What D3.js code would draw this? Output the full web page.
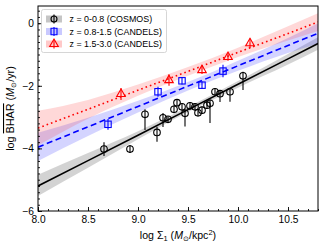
<!DOCTYPE html>
<html>
<head>
<meta charset="utf-8">
<script src="https://cdn.jsdelivr.net/npm/d3@7"></script>
<style>
  body { margin: 0; background: #fff; }
  svg { display: block; font-family: "Liberation Sans", Arial, sans-serif; }
</style>
</head>
<body>
<svg id="chart"></svg>
<script>
// COSMOS, z = 0-0.8
var cosmosX     = [8.66, 8.92, 9.07, 9.19, 9.25, 9.30, 9.36, 9.39, 9.44, 9.47, 9.52, 9.57, 9.60, 9.64, 9.69, 9.72, 9.77, 9.82, 9.92, 10.05];
var cosmosY     = [-4.02, -4.02, -2.91, -3.49, -3.02, -3.07, -2.75, -2.54, -2.67, -2.88, -2.64, -2.67, -2.86, -2.78, -2.62, -2.56, -2.19, -2.25, -2.19, -1.68];
var cosmosErrLo = [0.22, 0.13, 0.50, 0.30, 0.30, 0.10, 0.12, 0.12, 0.12, 0.42, 0.12, 0.12, 0.12, 0.12, 0.12, 0.63, 0.12, 0.27, 0.32, 0.45];
var cosmosErrHi = [0.22, 0.13, 0.16, 0.18, 0.15, 0.10, 0.12, 0.12, 0.12, 0.12, 0.12, 0.12, 0.12, 0.12, 0.12, 0.12, 0.12, 0.12, 0.12, 0.13];

// CANDELS, z = 0.8-1.5
var midX   = [8.70, 9.20, 9.44, 9.64, 9.85];
var midY   = [-3.23, -2.19, -1.84, -1.98, -1.53];
var midErr = [0.17, 0.16, 0.12, 0.12, 0.20];

// CANDELS, z = 1.5-3.0
var highX   = [8.83, 9.31, 9.64, 9.90, 10.12];
var highY   = [-2.26, -1.82, -1.50, -1.08, -0.64];
var highErr = [0.19, 0.18, 0.12, 0.12, 0.15];

// fits with confidence bands
var fitX     = [8.0, 8.5, 9.0, 9.5, 10.0, 10.5, 10.8];
var lowFit   = [-5.20, -4.39, -3.58, -2.76, -1.95, -1.14, -0.65];
var lowBandLo = [-5.52, -4.62, -3.71, -2.84, -2.06, -1.32, -0.85];
var lowBandHi = [-4.84, -4.15, -3.45, -2.68, -1.85, -0.98, -0.45];
var midFit   = [-3.96, -3.31, -2.66, -2.01, -1.36, -0.71, -0.32];
var midBandLo = [-4.40, -3.60, -2.85, -2.15, -1.52, -0.95, -0.66];
var midBandHi = [-3.50, -3.02, -2.48, -1.88, -1.20, -0.47, 0.00];
var highFit  = [-3.35, -2.75, -2.14, -1.54, -0.93, -0.33, 0.04];
var highBandLo = [-3.90, -3.05, -2.32, -1.68, -1.08, -0.55, -0.25];
var highBandHi = [-2.80, -2.45, -1.96, -1.40, -0.78, -0.10, 0.32];

var legendLabels = ["z = 0-0.8 (COSMOS)", "z = 0.8-1.5 (CANDELS)", "z = 1.5-3.0 (CANDELS)"];
var xTickValues = [8.0, 8.5, 9.0, 9.5, 10.0, 10.5];
var yTickValues = [-6, -4, -2, 0];

var W = 324, H = 246;
var margin = {left: 38, right: 6, top: 6, bottom: 35};
var svg = d3.select("#chart").attr("width", W).attr("height", H);

var x = d3.scaleLinear().domain([8.0, 10.8]).range([margin.left, W - margin.right]);
var y = d3.scaleLinear().domain([-6, 0.55]).range([H - margin.bottom, margin.top]);

svg.append("clipPath").attr("id", "clip")
  .append("rect")
  .attr("x", x.range()[0]).attr("y", y.range()[1])
  .attr("width", x.range()[1] - x.range()[0])
  .attr("height", y.range()[0] - y.range()[1]);

var plot = svg.append("g").attr("clip-path", "url(#clip)");

var fits = [
  {fit: lowFit, lo: lowBandLo, hi: lowBandHi, fill: "rgba(110,110,110,0.3)", stroke: "#000", dash: null},
  {fit: midFit, lo: midBandLo, hi: midBandHi, fill: "rgba(60,60,255,0.22)", stroke: "#0000ff", dash: "6,3.5"},
  {fit: highFit, lo: highBandLo, hi: highBandHi, fill: "rgba(255,60,60,0.2)", stroke: "#ff0000", dash: "1.6,3"}
];

fits.forEach(function(f) {
  var area = d3.area()
    .x(function(d, i) { return x(fitX[i]); })
    .y0(function(d, i) { return y(f.lo[i]); })
    .y1(function(d, i) { return y(f.hi[i]); })
    .curve(d3.curveMonotoneX);
  plot.append("path").datum(fitX).attr("d", area).attr("fill", f.fill);
});

fits.forEach(function(f) {
  var line = d3.line()
    .x(function(d, i) { return x(fitX[i]); })
    .y(function(d, i) { return y(f.fit[i]); });
  plot.append("path").datum(fitX).attr("d", line)
    .attr("fill", "none")
    .attr("stroke", f.stroke)
    .attr("stroke-width", 1.6)
    .attr("stroke-dasharray", f.dash);
});

// error bars
function errBars(xs, ys, lo, hi, color) {
  plot.append("g").selectAll("line")
    .data(xs)
    .enter().append("line")
    .attr("x1", function(d) { return x(d); })
    .attr("x2", function(d) { return x(d); })
    .attr("y1", function(d, i) { return y(ys[i] - lo[i]); })
    .attr("y2", function(d, i) { return y(ys[i] + hi[i]); })
    .attr("stroke", color)
    .attr("stroke-width", 1.1);
}

errBars(cosmosX, cosmosY, cosmosErrLo, cosmosErrHi, "#000");
errBars(midX, midY, midErr, midErr, "#0000ff");
errBars(highX, highY, highErr, highErr, "#ff0000");

plot.append("g").selectAll("circle")
  .data(cosmosX)
  .enter().append("circle")
  .attr("cx", function(d) { return x(d); })
  .attr("cy", function(d, i) { return y(cosmosY[i]); })
  .attr("r", 3.3)
  .attr("fill", "none")
  .attr("stroke", "#000")
  .attr("stroke-width", 1.1);

plot.append("g").selectAll("rect")
  .data(midX)
  .enter().append("rect")
  .attr("x", function(d) { return x(d) - 3.2; })
  .attr("y", function(d, i) { return y(midY[i]) - 3.2; })
  .attr("width", 6.4).attr("height", 6.4)
  .attr("fill", "none")
  .attr("stroke", "#0000ff")
  .attr("stroke-width", 1.1);

var tri = d3.symbol().type(d3.symbolTriangle).size(32);
plot.append("g").selectAll("path")
  .data(highX)
  .enter().append("path")
  .attr("d", tri)
  .attr("transform", function(d, i) { return "translate(" + x(d) + "," + y(highY[i]) + ")"; })
  .attr("fill", "none")
  .attr("stroke", "#ff0000")
  .attr("stroke-width", 1.1);

// axes
var xMinor = d3.range(8.0, 10.81, 0.1).map(function(v) { return +v.toFixed(1); });
var yMinor = d3.range(-6, 0.56, 0.2).map(function(v) { return +v.toFixed(1); });

var xAxis = svg.append("g").attr("transform", "translate(0," + y.range()[0] + ")");
xAxis.call(d3.axisBottom(x).tickValues(xMinor).tickSize(-2).tickFormat(""));
xAxis.append("g").call(d3.axisBottom(x).tickValues(xTickValues).tickSize(-4)
  .tickFormat(d3.format(".1f")));

var yAxis = svg.append("g").attr("transform", "translate(" + x.range()[0] + ",0)");
yAxis.call(d3.axisLeft(y).tickValues(yMinor).tickSize(-2).tickFormat(""));
yAxis.append("g").call(d3.axisLeft(y).tickValues(yTickValues).tickSize(-4)
  .tickFormat(function(d) { return d < 0 ? "\u2212" + Math.abs(d) : d; }));

svg.selectAll(".domain").remove();
svg.selectAll(".tick line").attr("stroke", "#000").attr("stroke-width", 0.9);
xAxis.selectAll(".tick text").attr("y", 5).attr("dy", "0.71em")
  .attr("font-size", 10.2).attr("font-family", "Liberation Sans, Arial, sans-serif").attr("fill", "#000");
yAxis.selectAll(".tick text").attr("x", -4)
  .attr("font-size", 10.2).attr("font-family", "Liberation Sans, Arial, sans-serif").attr("fill", "#000");

svg.append("rect")
  .attr("x", x.range()[0]).attr("y", y.range()[1])
  .attr("width", x.range()[1] - x.range()[0])
  .attr("height", y.range()[0] - y.range()[1])
  .attr("fill", "none").attr("stroke", "#000").attr("stroke-width", 1);

// axis labels
var xl = svg.append("text")
  .attr("x", (x.range()[0] + x.range()[1]) / 2)
  .attr("y", 239)
  .attr("text-anchor", "middle")
  .attr("font-size", 10.6);
xl.append("tspan").text("log \u03A3");
xl.append("tspan").text("1").attr("font-size", 7.5).attr("dy", 2);
xl.append("tspan").text(" (").attr("dy", -2);
xl.append("tspan").text("M").attr("font-style", "italic");
xl.append("tspan").text("\u2299").attr("font-size", 7).attr("dy", 2);
xl.append("tspan").text("/kpc").attr("dy", -2);
xl.append("tspan").text("2").attr("font-size", 7.5).attr("dy", -4);
xl.append("tspan").text(")").attr("dy", 4);

var yl = svg.append("text")
  .attr("transform", "translate(14," + ((y.range()[0] + y.range()[1]) / 2) + ") rotate(-90)")
  .attr("text-anchor", "middle")
  .attr("font-size", 10.8);
yl.append("tspan").text("log ");
yl.append("tspan").text("BHAR").style("text-decoration", "overline");
yl.append("tspan").text(" (");
yl.append("tspan").text("M").attr("font-style", "italic");
yl.append("tspan").text("\u2299").attr("font-size", 7).attr("dy", 2);
yl.append("tspan").text("/yr)").attr("dy", -2);

// legend
var lg = svg.append("g");
lg.append("rect")
  .attr("x", 41.5).attr("y", 9.5).attr("width", 125).attr("height", 43).attr("rx", 2)
  .attr("fill", "rgba(255,255,255,0.85)").attr("stroke", "#ccc").attr("stroke-width", 0.8);

var legendFill = ["rgba(110,110,110,0.4)", "rgba(60,60,255,0.28)", "rgba(255,60,60,0.28)"];
var legendColor = ["#000", "#0000ff", "#ff0000"];
var legendRow = lg.selectAll("g.row")
  .data(legendLabels)
  .enter().append("g")
  .attr("class", "row")
  .attr("transform", function(d, i) { return "translate(0," + (19 + i * 12.5) + ")"; });

legendRow.append("rect")
  .attr("x", 46).attr("y", -3.5).attr("width", 16).attr("height", 7)
  .attr("fill", function(d, i) { return legendFill[i]; });
legendRow.append("line")
  .attr("x1", 54).attr("x2", 54).attr("y1", -4.5).attr("y2", 4.5)
  .attr("stroke", function(d, i) { return legendColor[i]; }).attr("stroke-width", 1.1);
legendRow.append("path")
  .attr("d", function(d, i) {
    if (i == 0) return d3.symbol().type(d3.symbolCircle).size(28)();
    if (i == 1) return "M-3,-3.2H3V3.2H-3Z";
    return tri();
  })
  .attr("transform", "translate(54,0)")
  .attr("fill", "none")
  .attr("stroke", function(d, i) { return legendColor[i]; })
  .attr("stroke-width", 1.1);
legendRow.append("text")
  .attr("x", 69.5).attr("y", 3.2)
  .attr("font-size", 8.9)
  .text(function(d) { return d; });
</script>
</body>
</html>
